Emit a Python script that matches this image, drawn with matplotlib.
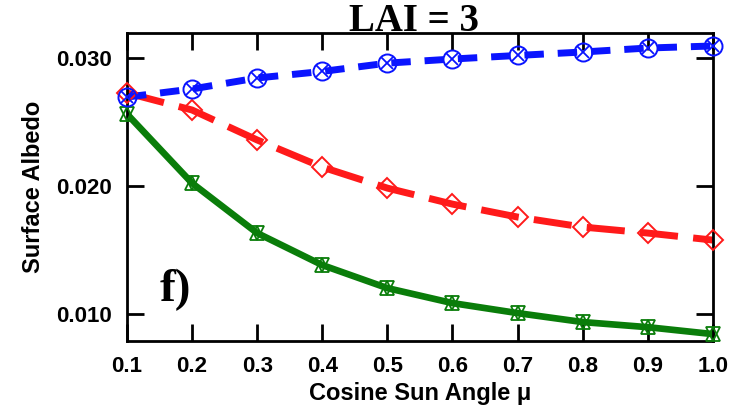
import numpy as np
import matplotlib.pyplot as plt
from matplotlib.ticker import FixedLocator

# cosine of sun angle
mu = [0.1, 0.2, 0.3, 0.4, 0.5, 0.6, 0.7, 0.8, 0.9, 1.0]

# surface albedo for the three cases
blue_vals = [0.02695, 0.02758, 0.02844, 0.02895, 0.02960, 0.02992, 0.03020, 0.03047, 0.03078, 0.03094]
red_vals = [0.02727, 0.02594, 0.02360, 0.02148, 0.01984, 0.01859, 0.01758, 0.01680, 0.01633, 0.01578]
green_vals = [0.02563, 0.02023, 0.01633, 0.01383, 0.01203, 0.01086, 0.01008, 0.00938, 0.00898, 0.00844]

xticks = [0.1, 0.2, 0.3, 0.4, 0.5, 0.6, 0.7, 0.8, 0.9, 1.0]
yticks = [0.010, 0.020, 0.030]

plt.rcParams['font.family'] = ['Liberation Sans', 'DejaVu Sans']

fig = plt.figure(figsize=(7.38, 4.13), dpi=100)
ax = fig.add_axes([0.172, 0.174, 0.794, 0.746])

ax.plot(mu, green_vals, '-', color='#0a7d0a', lw=4.8, zorder=2)
ax.plot(mu, green_vals, '^', ms=10, mfc='none', mec='#0a7d0a', mew=1.3, clip_on=False, zorder=3)
ax.plot(mu, green_vals, 'v', ms=10, mfc='none', mec='#0a7d0a', mew=1.3, clip_on=False, zorder=3)

ax.plot(mu, red_vals, color='#ff1a1a', lw=5, dashes=(5.5, 2.2), zorder=2)
ax.plot(mu, red_vals, 'D', ms=10, mfc='none', mec='#ff1a1a', mew=1.4, clip_on=False, zorder=3)

ax.plot(mu, blue_vals, color='#0a14ff', lw=5, dashes=(2.8, 2.0), zorder=2)
ax.plot(mu, blue_vals, 'o', ms=13, mfc='none', mec='#0a14ff', mew=1.4, clip_on=False, zorder=3)
ax.plot(mu, blue_vals, 'x', ms=9, mec='#0a14ff', mew=1.3, clip_on=False, zorder=3)

ax.set_xlim(0.1, 1.0)
ax.set_ylim(0.00789, 0.03195)
ax.xaxis.set_major_locator(FixedLocator(xticks))
ax.yaxis.set_major_locator(FixedLocator(yticks))
ax.set_xticklabels(['%.1f' % v for v in xticks])
ax.set_yticklabels(['%.3f' % v for v in yticks])
ax.tick_params(direction='in', length=12, width=2, top=True, right=True,
               labelsize=16, pad=11)
for lab in ax.get_xticklabels() + ax.get_yticklabels():
    lab.set_fontweight('bold')
for s in ax.spines.values():
    s.set_linewidth(2)

ax.set_xlabel('Cosine Sun Angle \u03bc', fontsize=17, fontweight='bold', labelpad=3)
ax.set_ylabel('Surface Albedo', fontsize=17, fontweight='bold', labelpad=8)

fig.text(0.561, 0.925, 'LAI = 3', ha='center', va='baseline', fontsize=28,
         fontweight='bold', family=['Liberation Serif', 'DejaVu Serif'])
ax.text(0.055, 0.165, 'f)', transform=ax.transAxes, fontsize=34, fontweight='bold',
        family=['Liberation Serif', 'DejaVu Serif'], va='center')

fig.savefig('out.png', dpi=100)
